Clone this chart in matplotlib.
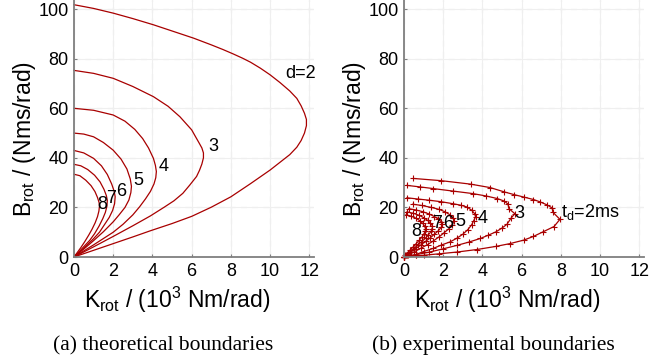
import numpy as np
import matplotlib.pyplot as plt

plt.rcParams['font.family'] = ['Liberation Sans', 'DejaVu Sans']
plt.rcParams['mathtext.fontset'] = 'custom'
plt.rcParams['mathtext.rm'] = 'Liberation Sans'
plt.rcParams['mathtext.it'] = 'Liberation Sans:italic'

# theoretical boundaries, K in 10^3 Nm/rad, B in Nms/rad
d_labels = ['d=2', '3', '4', '5', '6', '7', '8']
theo_K = [
    [0, 1, 2, 3, 4.05, 5, 6.1, 7, 7.6, 8.1, 8.6, 9, 9.5, 10, 10.5, 11, 11.36, 11.58, 11.75, 11.85, 11.85, 11.75,
     11.58, 11.36, 11, 10.5, 10, 9, 8, 7, 6, 5, 3.9, 3, 2, 1, 0],
    [0, 1, 2, 3, 4.05, 4.8, 5.4, 6.0, 6.2, 6.38, 6.52, 6.6, 6.6, 6.52, 6.4, 6.25, 5.9, 5.55, 5.1, 4.6, 3.9, 3, 2, 1, 0],
    [0, 1, 2, 2.6, 3.1, 3.5, 3.8, 4.05, 4.15, 4.2, 4.17, 4.08, 3.9, 3.65, 3.35, 3.0, 2.5, 2, 1, 0],
    [0, 0.5, 1, 1.5, 2, 2.4, 2.7, 2.87, 2.93, 2.9, 2.8, 2.6, 2.3, 2, 1.5, 1, 0.5, 0],
    [0, 0.5, 1, 1.4, 1.7, 1.92, 2.05, 2.1, 2.07, 1.97, 1.8, 1.55, 1.3, 1, 0.65, 0.3, 0],
    [0, 0.35, 0.7, 1.05, 1.33, 1.53, 1.65, 1.7, 1.68, 1.6, 1.47, 1.28, 1.05, 0.8, 0.48, 0.2, 0],
    [0, 0.3, 0.6, 0.87, 1.07, 1.2, 1.28, 1.3, 1.27, 1.2, 1.08, 0.92, 0.75, 0.55, 0.35, 0.15, 0],
]
theo_B = [
    [101.8, 100.3, 98.4, 96.2, 93.7, 91.2, 88.3, 85.6, 83.7, 82.0, 80.2, 78.6, 76.2, 73.5, 70.4, 67.0, 64.0, 61, 58, 55.5, 53, 50,
     47, 44.3, 41.3, 38.2, 35.1, 29.6, 24.3, 20.1, 16.4, 13.5, 10.6, 8.1, 5.4, 2.7, 0],
    [75.3, 74.1, 72.1, 68.8, 64.7, 60.8, 56.6, 51.3, 48.5, 46, 44, 42, 40, 37.5, 35, 32.5, 29, 25.7, 22.7, 20.1, 16.6, 12.6, 8.3, 4.1, 0],
    [60, 59.2, 57.3, 54.8, 51.5, 47.8, 44, 39.8, 37, 34.5, 32, 29.5, 26.5, 23.5, 20.3, 17, 13.2, 10, 4.9, 0],
    [50, 49.6, 48.5, 46.2, 43.1, 39.5, 35.5, 31.5, 28.5, 26, 23, 20, 17, 14.2, 10.2, 6.6, 3.2, 0],
    [43, 42, 39.8, 36.8, 33.3, 29.5, 26.5, 24.3, 21.5, 18.8, 16, 13, 10, 7.4, 4.7, 2.1, 0],
    [37.4, 36.8, 35.3, 33, 30.3, 27.3, 24.8, 22.9, 20.5, 18, 15.5, 12.5, 9.4, 6.7, 4, 1.6, 0],
    [33.4, 32.8, 31, 28.8, 26.4, 24, 22, 20.5, 18.5, 16.3, 13.8, 11.2, 8.8, 6.2, 3.8, 1.6, 0],
]
theo_lab_K = [11.56, 7.1, 4.56, 3.26, 2.4, 1.88, 1.45]
theo_lab_B = [74.1, 44.5, 36.4, 31.0, 26.3, 23.8, 21.0]

# experimental boundaries, td = 2..8 ms
td_labels = [r't$_{\mathrm{d}}$=2ms', '3', '4', '5', '6', '7', '8']
exp_K = [
    [0.48, 1.9, 3.4, 4.4, 5.1, 5.6, 6.1, 6.6, 6.95, 7.3, 7.55, 7.6, 7.95, 7.65, 7.1, 6.6, 6.1, 5.4, 4.7, 3.7, 2.7, 1.8, 1.0, 0],
    [0.15, 0.8, 1.5, 2.5, 3.5, 4.2, 4.75, 5.1, 5.3, 5.35, 5.65, 5.45, 5.25, 5.0, 4.7, 4.3, 3.9, 3.3, 2.7, 2.0, 1.3, 0.6, 0],
    [0.15, 0.7, 1.3, 1.9, 2.5, 2.9, 3.2, 3.45, 3.6, 3.65, 3.55, 3.45, 3.25, 3.0, 2.7, 2.35, 1.9, 1.5, 1.0, 0.6, 0],
    [0.45, 0.9, 1.4, 1.8, 2.1, 2.35, 2.5, 2.55, 2.45, 2.3, 2.05, 1.8, 1.5, 1.2, 0.85, 0.5, 0.2, 0],
    [0.25, 0.6, 0.95, 1.3, 1.55, 1.75, 1.9, 1.95, 1.9, 1.75, 1.55, 1.35, 1.1, 0.85, 0.6, 0.35, 0.15, 0],
    [0.15, 0.45, 0.75, 1.0, 1.2, 1.35, 1.45, 1.45, 1.38, 1.25, 1.1, 0.9, 0.7, 0.5, 0.3, 0.12, 0],
    [0.1, 0.35, 0.6, 0.8, 0.95, 1.05, 1.1, 1.08, 1.0, 0.9, 0.77, 0.62, 0.47, 0.32, 0.18, 0.07, 0],
]
exp_B = [
    [31.7, 30.8, 29.4, 28.0, 26.3, 25.2, 24.2, 23.2, 22.2, 21.0, 19.8, 18.0, 15.2, 12.3, 10.2, 8.3, 6.8, 5.4, 4.3, 3.0, 2.0, 1.3, 0.7, 0],
    [28.9, 28.3, 27.6, 26.6, 25.6, 24.6, 23.6, 22.6, 21.4, 19.5, 17.5, 15.6, 13.2, 11.7, 10.2, 8.8, 7.5, 6.0, 4.7, 3.3, 2.0, 0.9, 0],
    [23.9, 23.4, 22.9, 22.3, 21.5, 20.9, 20.2, 18.9, 17.5, 16.2, 14.6, 13.0, 11.0, 9.2, 7.6, 6.1, 4.8, 3.5, 2.2, 1.0, 0],
    [21.3, 20.8, 20.0, 19.2, 18.2, 17.0, 15.8, 14.5, 13.0, 11.5, 9.8, 8.2, 6.5, 5.0, 3.5, 2.0, 0.8, 0],
    [19.5, 19.0, 18.3, 17.3, 16.3, 15.3, 14.2, 13.2, 12.0, 10.6, 9.2, 7.8, 6.3, 4.8, 3.4, 2.0, 0.8, 0],
    [18.2, 17.7, 16.9, 15.9, 14.8, 13.7, 12.6, 11.5, 10.3, 9.0, 7.6, 6.2, 4.8, 3.4, 2.1, 0.8, 0],
    [17.0, 16.5, 15.7, 14.7, 13.6, 12.5, 11.4, 10.3, 9.1, 7.9, 6.7, 5.4, 4.1, 2.9, 1.7, 0.7, 0],
]
exp_lab_K = [8.0, 5.9, 4.0, 2.86, 2.26, 1.67, 0.65]
exp_lab_B = [18.3, 17.5, 15.5, 14.2, 13.5, 13.5, 10.1]

x_ticks = [0, 2, 4, 6, 8, 10, 12]
y_ticks = [0, 20, 40, 60, 80, 100]

red = '#a80000'
axcol = '#7f7f7f'

fig = plt.figure(figsize=(6.5, 3.59), dpi=100)
ax1 = fig.add_axes([0.1138, 0.2841, 0.3697, 0.7159])
ax2 = fig.add_axes([0.6215, 0.2841, 0.3697, 0.7159])


def style_axes(ax):
    ax.set_xlim(0, 12.25)
    ax.set_ylim(0, 103.7)
    ax.set_xticks(x_ticks)
    ax.set_yticks(y_ticks)
    ax.grid(True, color='#efefef', linewidth=0.8, linestyle='-', zorder=0)
    for v in x_ticks:
        ax.axvline(v, color='#c9c9c9', linewidth=0.8, linestyle=(0, (5, 5)), zorder=0.5)
    for v in y_ticks:
        ax.axhline(v, color='#c9c9c9', linewidth=0.8, linestyle=(0, (5, 5)), zorder=0.5)
    ax.spines['top'].set_visible(False)
    ax.spines['right'].set_visible(False)
    for s in ['left', 'bottom']:
        ax.spines[s].set_color(axcol)
        ax.spines[s].set_linewidth(1.3)
    ax.tick_params(direction='in', length=2.5, width=0.8, color=axcol,
                   labelsize=13, pad=4)
    ax.set_axisbelow(True)


style_axes(ax1)
style_axes(ax2)

for K, B in zip(theo_K, theo_B):
    ax1.plot(K, B, color=red, linewidth=0.9, clip_on=False)
for lab, k, b in zip(d_labels, theo_lab_K, theo_lab_B):
    ax1.text(k, b, lab, fontsize=13, ha='center', va='center')

for K, B in zip(exp_K, exp_B):
    ax2.plot(K, B, color=red, linewidth=0.9, marker='+', markersize=4.5,
             markeredgewidth=0.8, clip_on=False)
for i, (lab, k, b) in enumerate(zip(td_labels, exp_lab_K, exp_lab_B)):
    ax2.text(k, b, lab, fontsize=13, ha='left' if i == 0 else 'center', va='center')

xlab = r'K$_{\mathrm{rot}}$ / (10$^{3}$ Nm/rad)'
ylab = r'B$_{\mathrm{rot}}$ / (Nms/rad)'
for dx in [0, 330]:
    fig.text((177.5 + dx) / 650, (359 - 308) / 359, xlab, fontsize=16.5,
             ha='center', va='baseline')
    fig.text((24 + dx) / 650, (359 - 138.5) / 359, ylab, fontsize=16.5,
             rotation=90, ha='center', va='center')

fig.text(163 / 650, (359 - 350) / 359, '(a) theoretical boundaries',
         family=['Liberation Serif'], fontsize=15.5, ha='center', va='baseline')
fig.text(493 / 650, (359 - 350) / 359, '(b) experimental boundaries',
         family=['Liberation Serif'], fontsize=15.5, ha='center', va='baseline')

fig.savefig('out.png', dpi=100)
